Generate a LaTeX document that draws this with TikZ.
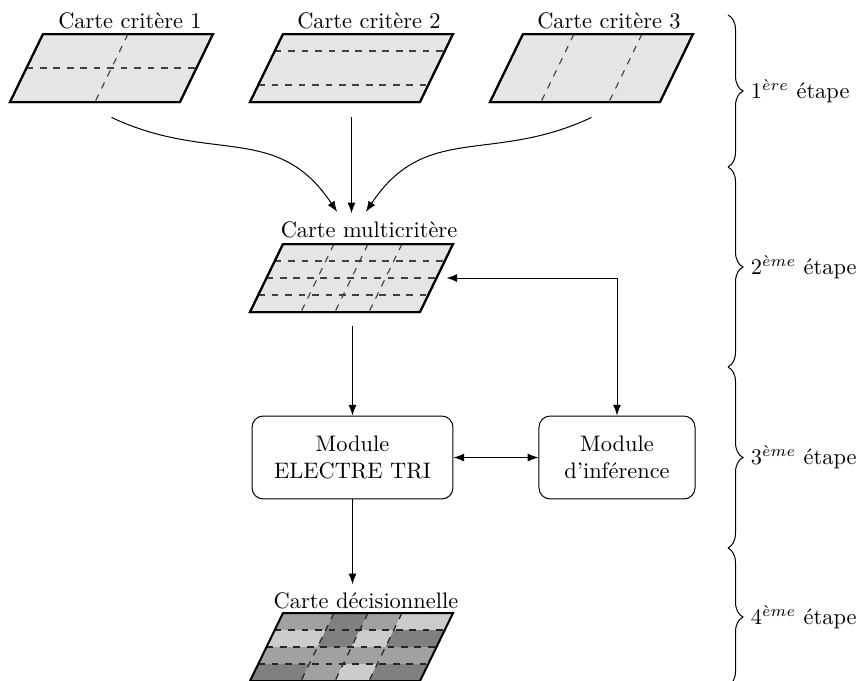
\documentclass[tikz,border=0pt]{standalone}
\usetikzlibrary{arrows.meta,decorations.pathreplacing}
\newcommand\pq[2]{({-68.5+170*(#1)-33*(#2)},{-34+68*(#2)})}
\begin{document}
\begin{tikzpicture}[x=0.446pt,y=-0.446pt,
  mapnode/.style={inner sep=0pt,minimum width=90.5pt,minimum height=30.3pt},
  mapframe/.style={line width=0.9pt,line join=miter},
  mapfill/.style={fill=black!10},
  grid/.style={dashed,black!75,line width=0.5pt},
  dgrid/.style={dashed,black!85,line width=0.55pt},
  title/.style={anchor=base,inner sep=3.33pt},
  arr/.style={-{Latex[length=4.8pt,width=3.6pt]},line width=0.45pt},
  darr/.style={{Latex[length=4.8pt,width=3.6pt]}-{Latex[length=4.8pt,width=3.6pt]},line width=0.45pt},
  modbox/.style={draw,rounded corners=5pt,align=center,minimum height=37pt,line width=0.45pt},
  stagebrace/.style={decorate,decoration={brace,amplitude=6.7pt},line width=0.45pt},
  stagelabel/.style={anchor=west},
  cL/.style={fill=black!20},cM/.style={fill=black!37},cD/.style={fill=black!50}]
\useasboundingbox (0,0) rectangle (863,680);

% ---- map nodes
\node[mapnode] (m1) at (111.5,68) {};
\node[mapnode] (m2) at (351.5,68) {};
\node[mapnode] (m3) at (591.5,68) {};
\node[mapnode] (m4) at (351.5,278) {};
\node[mapnode] (m5) at (351.5,647) {};

% map 1
\begin{scope}[shift={(m1.center)}]
  \draw[mapframe,mapfill] \pq{0}{0} -- \pq{1}{0} -- \pq{1}{1} -- \pq{0}{1} -- cycle;
  \draw[grid] \pq{0}{0.5} -- \pq{1}{0.5};
  \draw[grid] \pq{0.5}{0} -- \pq{0.5}{1};
  \draw[mapframe] \pq{0}{0} -- \pq{1}{0} -- \pq{1}{1} -- \pq{0}{1} -- cycle;
\end{scope}
% map 2
\begin{scope}[shift={(m2.center)}]
  \draw[mapframe,mapfill] \pq{0}{0} -- \pq{1}{0} -- \pq{1}{1} -- \pq{0}{1} -- cycle;
  \draw[grid] \pq{0}{0.25} -- \pq{1}{0.25};
  \draw[grid] \pq{0}{0.75} -- \pq{1}{0.75};
  \draw[mapframe] \pq{0}{0} -- \pq{1}{0} -- \pq{1}{1} -- \pq{0}{1} -- cycle;
\end{scope}
% map 3
\begin{scope}[shift={(m3.center)}]
  \draw[mapframe,mapfill] \pq{0}{0} -- \pq{1}{0} -- \pq{1}{1} -- \pq{0}{1} -- cycle;
  \draw[grid] \pq{0.3}{0} -- \pq{0.3}{1};
  \draw[grid] \pq{0.7}{0} -- \pq{0.7}{1};
  \draw[mapframe] \pq{0}{0} -- \pq{1}{0} -- \pq{1}{1} -- \pq{0}{1} -- cycle;
\end{scope}
% map 4 (multicritere)
\begin{scope}[shift={(m4.center)}]
  \draw[mapframe,mapfill] \pq{0}{0} -- \pq{1}{0} -- \pq{1}{1} -- \pq{0}{1} -- cycle;
  \foreach \t in {0.25,0.5,0.75} \draw[grid] \pq{0}{\t} -- \pq{1}{\t};
  \foreach \s in {0.3,0.5,0.7} \draw[grid] \pq{\s}{0} -- \pq{\s}{1};
  \draw[mapframe] \pq{0}{0} -- \pq{1}{0} -- \pq{1}{1} -- \pq{0}{1} -- cycle;
\end{scope}
% map 5 (decisionnelle)
\begin{scope}[shift={(m5.center)}]
  \foreach \sa/\sb/\ta/\tb/\c in {
     0/0.3/0/0.25/cM, 0.3/0.5/0/0.25/cD, 0.5/0.7/0/0.25/cM, 0.7/1/0/0.25/cL,
     0/0.3/0.25/0.5/cL, 0.3/0.5/0.25/0.5/cD, 0.5/0.7/0.25/0.5/cL, 0.7/1/0.25/0.5/cD,
     0/0.3/0.5/0.75/cM, 0.3/0.5/0.5/0.75/cM, 0.5/0.7/0.5/0.75/cM, 0.7/1/0.5/0.75/cM,
     0/0.3/0.75/1/cD, 0.3/0.5/0.75/1/cM, 0.5/0.7/0.75/1/cL, 0.7/1/0.75/1/cD}
    \path[\c] \pq{\sa}{\ta} -- \pq{\sb}{\ta} -- \pq{\sb}{\tb} -- \pq{\sa}{\tb} -- cycle;
  \foreach \t in {0.25,0.5,0.75} \draw[dgrid] \pq{0}{\t} -- \pq{1}{\t};
  \foreach \s in {0.3,0.5,0.7} \draw[dgrid] \pq{\s}{0} -- \pq{\s}{1};
  \draw[mapframe] \pq{0}{0} -- \pq{1}{0} -- \pq{1}{1} -- \pq{0}{1} -- cycle;
\end{scope}

% ---- titles
\node[title] (t1) at (130,28) {Carte critère 1};
\node[title] (t2) at (369,28) {Carte critère 2};
\node[title] (t3) at (609,28) {Carte critère 3};
\node[title] (t4) at (369,237) {Carte multicritère};
\node[title] (t5) at (366,608) {Carte décisionnelle};

% ---- modules
\node[modbox,minimum width=89.6pt] (e) at (352.5,457.5) {Module\\ELECTRE TRI};
\node[modbox,minimum width=69.6pt] (i) at (617,457.5) {Module\\d'inférence};

% ---- connectors
\coordinate (s1) at ([yshift=-6.7pt]m1.south);
\coordinate (s2) at ([yshift=-6.7pt]m2.south);
\coordinate (s3) at ([yshift=-6.7pt]m3.south);
\coordinate (s4) at ([yshift=-6.2pt]e.north |- m4.south);
\coordinate (r4) at ([xshift=-3.1pt]m4.east);
\coordinate (n4) at (t4.north -| s2);
\draw[arr] (s1) .. controls +(100,47) and +(-60,-90) .. ([xshift=-6.4pt,yshift=0.6pt]n4);
\draw[arr] (s2) -- (n4);
\draw[arr] (s3) .. controls +(-100,47) and +(60,-90) .. ([xshift=6.4pt,yshift=0.6pt]n4);
\draw[arr] (s4) -- (e.north);
\draw[darr] (e.east) -- (i.west);
\draw[darr] (i.north) |- (r4);
\draw[arr] (e.south) -- (e.south |- t5.north);

% ---- stage braces
\draw[stagebrace] (728,15) -- (728,167);
\draw[stagebrace] (728,167) -- (728,367);
\draw[stagebrace] (728,367) -- (728,548);
\draw[stagebrace] (728,548) -- (728,686);
\node[stagelabel] (l1) at (743,91) {$1^{\grave{e}re}$ étape};
\node[stagelabel] (l2) at (743,267) {$2^{\grave{e}me}$ étape};
\node[stagelabel] (l3) at (743,457.5) {$3^{\grave{e}me}$ étape};
\node[stagelabel] (l4) at (743,617) {$4^{\grave{e}me}$ étape};
\end{tikzpicture}
\end{document}
